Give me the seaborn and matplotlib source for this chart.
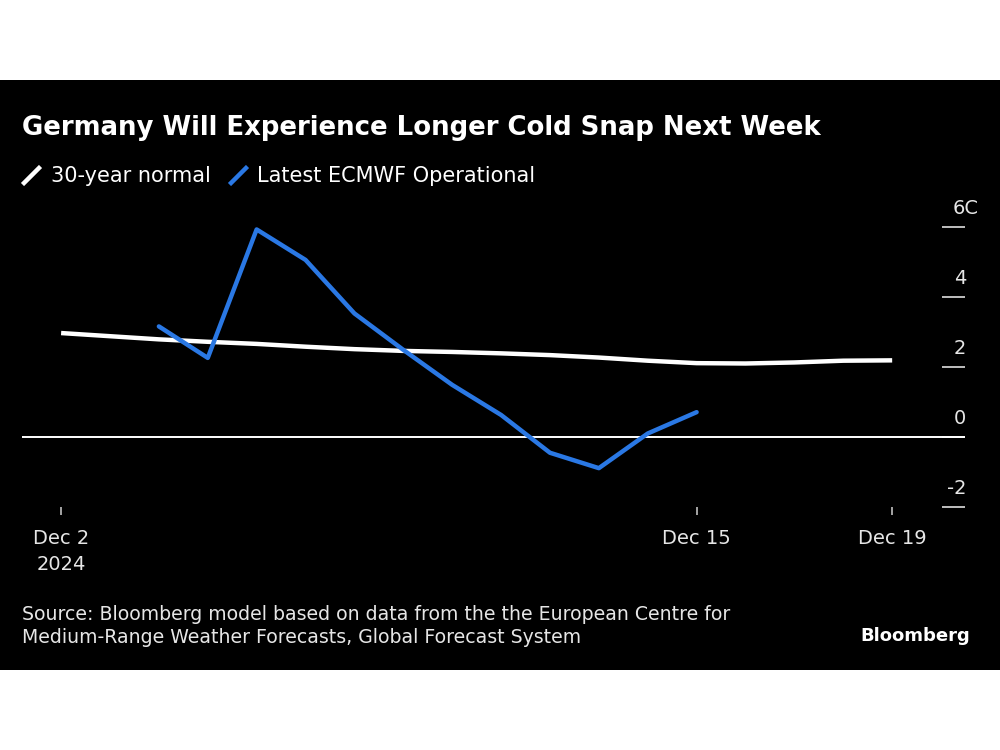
import pandas as pd
import numpy as np
import matplotlib
matplotlib.use("Agg")
import matplotlib.pyplot as plt
import matplotlib.transforms as mtransforms
from matplotlib.lines import Line2D
from matplotlib.path import Path
from matplotlib.patches import Rectangle
import seaborn as sns

# ---- data ----
normal_dates = pd.date_range("2024-12-02", "2024-12-19", freq="D")
normal_values = [2.97, 2.88, 2.79, 2.72, 2.66, 2.58, 2.51, 2.46, 2.43, 2.39,
                 2.34, 2.27, 2.18, 2.11, 2.10, 2.13, 2.18, 2.19]
ecmwf_dates = pd.date_range("2024-12-04", "2024-12-15", freq="D")
ecmwf_values = [3.16, 2.26, 5.93, 5.06, 3.53, 2.49, 1.49, 0.63, -0.45, -0.89, 0.10, 0.71]

series_names = ["30-year normal", "Latest ECMWF Operational"]
xtick_dates = [pd.Timestamp("2024-12-02"), pd.Timestamp("2024-12-15"), pd.Timestamp("2024-12-19")]
xtick_labels = ["Dec 2\n2024", "Dec 15", "Dec 19"]
ytick_values = [-2, 0, 2, 4, 6]
ytick_labels = ["-2", "0", "2", "4", "6C"]

title = "Germany Will Experience Longer Cold Snap Next Week"
source = ("Source: Bloomberg model based on data from the the European Centre for\n"
          "Medium-Range Weather Forecasts, Global Forecast System")

WHITE = "#ffffff"
BLUE = "#2a78e4"
TICK = "#bfbfbf"

sns.set_style("dark")
plt.rcParams["font.family"] = ["DejaVu Sans"]

fig = plt.figure(figsize=(10, 7.5), dpi=100, facecolor="white")
# black panel
fig.add_artist(Rectangle((0, 80 / 750), 1, 590 / 750, transform=fig.transFigure,
                         facecolor="black", edgecolor="none", zorder=0))

ax = fig.add_axes([0.022, 1 - 507 / 750, 0.943, 280 / 750])
ax.set_facecolor("black")
ax.patch.set_alpha(0)

normal_df = pd.DataFrame({"date": normal_dates, "value": normal_values})
ecmwf_df = pd.DataFrame({"date": ecmwf_dates, "value": ecmwf_values})

ax.axhline(0, color=WHITE, lw=1.4, zorder=1)
sns.lineplot(data=normal_df, x="date", y="value", ax=ax, color=WHITE, lw=3.2,
             zorder=3, clip_on=False, solid_capstyle="butt")
sns.lineplot(data=ecmwf_df, x="date", y="value", ax=ax, color=BLUE, lw=3.2,
             zorder=4, clip_on=False, solid_capstyle="round", solid_joinstyle="round")

ax.set_xlim(pd.Timestamp("2024-12-02") - pd.Timedelta(days=0.80),
            pd.Timestamp("2024-12-19") + pd.Timedelta(days=1.49))
ax.set_ylim(-2, 6)

for s in ax.spines.values():
    s.set_visible(False)
ax.grid(False)
ax.set_xlabel("")
ax.set_ylabel("")

ax.set_xticks(xtick_dates)
ax.set_xticklabels(xtick_labels)
ax.tick_params(axis="x", bottom=True, direction="out", length=5.8, width=1.2, color=TICK,
               labelcolor="#e6e6e6", labelsize=14, pad=10)
for lab in ax.get_xticklabels():
    lab.set_linespacing(1.5)
    lab.set_verticalalignment("top")

ax.yaxis.tick_right()
ax.set_yticks(ytick_values)
ax.tick_params(axis="y", right=True, left=False, direction="in", length=16.5, width=1.4,
               color=TICK, labelright=False, labelleft=False)
ytrans = mtransforms.blended_transform_factory(ax.transAxes, ax.transData)
for v, lab in zip(ytick_values, ytick_labels):
    dx = 9.8 if lab.endswith("C") else 0.8
    ax.annotate(lab, xy=(1.0, v), xycoords=ytrans, xytext=(dx, 9.5),
                textcoords="offset points", ha="right", va="baseline",
                fontsize=14, color="#e6e6e6", annotation_clip=False)

# title
fig.text(0.022, 1 - 128 / 750, title, fontsize=18.7, fontweight="bold",
         color=WHITE, ha="left", va="center")

# legend with slash icons
slash = Path([(-1, -1), (1, 1)], [Path.MOVETO, Path.LINETO])
handles = [Line2D([], [], linestyle="none", marker=slash, markersize=13,
                  markeredgewidth=3.2, color=c, markeredgecolor=c)
           for c in (WHITE, BLUE)]
fig.legend(handles, series_names, loc="center left",
           bbox_to_anchor=(0.012, 1 - 176 / 750), ncol=2, frameon=False,
           fontsize=15, labelcolor=WHITE, handlelength=1.0, handletextpad=0.45,
           columnspacing=0.8, borderaxespad=0)

# source & logo
fig.text(0.022, 1 - 626 / 750, source, fontsize=13.6, color="#e6e6e6",
         ha="left", va="center", linespacing=1.25)
fig.text(0.970, 1 - 636 / 750, "Bloomberg", fontsize=13, fontweight="bold",
         color=WHITE, ha="right", va="center")

fig.savefig("out.png", dpi=100, facecolor="white")
